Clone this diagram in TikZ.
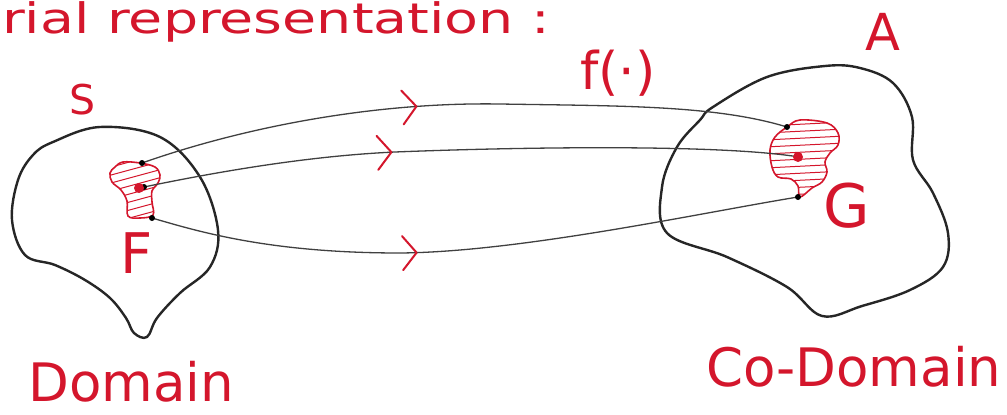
\documentclass[tikz,border=0pt]{standalone}
\usepackage{fontspec}
\setmainfont{DejaVu Sans}
\usepackage{xcolor}
\usetikzlibrary{decorations.markings}

\definecolor{handred}{RGB}{212,22,44}

\begin{document}
\begin{tikzpicture}[x=1pt, y=-1pt,
    setline/.style={draw=black!85, line width=2.4pt, line join=round},
    maplink/.style={draw=black!75, line width=1.3pt},
    rim/.style={draw=handred, line width=1.6pt},
    hatch/.style={draw=handred, line width=1pt},
    lbl/.style={text=handred, inner sep=0pt},
    flowmark/.style={postaction={decorate}, decoration={markings,
        mark=at position #1 with {\draw[handred, line width=2pt, line cap=round, line join=round]
            (-14pt,17pt) -- (0pt,0pt) -- (-14pt,-17pt);}}}
]

\fill[white] (0,0) rectangle (1007,415);
\useasboundingbox (0,0) rectangle (1007,415);

% === Heading ===
\node[lbl, anchor=base west] (title) at (2,33)
    {\scalebox{1.32}[1]{\fontsize{42}{50}\selectfont rial representation :}};

% === Domain S with subset F ===
\draw[setline] plot[smooth cycle, tension=0.6] coordinates {
    (53,142) (100,127) (160,137) (200,177) (218,230) (210,267) (180,293)
    (157,318) (147,337) (134,333) (126,318) (110,298) (85,280) (55,265)
    (25,255) (12,220) (18,180) (33,155)};
\begin{scope}
    \clip plot[smooth cycle, tension=0.6] coordinates {
        (115,167) (123,162) (140,163) (155,167) (160,175) (158,183) (152,191)
        (152,202) (153,215) (140,218) (128,216) (127,201) (121,190) (112,182) (110,173)};
    \foreach \y in {170,178,...,250}
        \draw[hatch] (100,\y) -- (170,\y-19);
\end{scope}
\draw[rim] plot[smooth cycle, tension=0.6] coordinates {
    (115,167) (123,162) (140,163) (155,167) (160,175) (158,183) (152,191)
    (152,202) (153,215) (140,218) (128,216) (127,201) (121,190) (112,182) (110,173)};

\node[lbl, font=\fontsize{41}{48}\selectfont] (S) at (83,100) {S};
\node[lbl, anchor=base, font=\fontsize{56}{64}\selectfont] (F) at (137,273) {F};
\node[lbl, anchor=base west, font=\fontsize{53}{62}\selectfont] (dom) at (28,401) {Domain};

% === Co-domain A with image G ===
\draw[setline] plot[smooth cycle, tension=0.6] coordinates {
    (713,107) (767,77) (825,66) (860,68) (893,83) (912,117) (913,160)
    (933,193) (948,233) (943,267) (910,290) (862,306) (822,316)
    (787,287) (727,257) (667,233) (662,187) (677,147) (700,120)};
\begin{scope}
    \clip plot[smooth cycle, tension=0.6] coordinates {
        (787,127) (800,120) (827,123) (838,133) (838,145) (830,153) (825,162)
        (827,172) (822,182) (812,188) (800,197) (798,186) (791,179) (778,177)
        (772,167) (770,150) (775,137)};
    \foreach \y in {124,131,...,200}
        \draw[hatch] (765,\y+2) -- (845,\y-2);
\end{scope}
\draw[rim] plot[smooth cycle, tension=0.6] coordinates {
    (787,127) (800,120) (827,123) (838,133) (838,145) (830,153) (825,162)
    (827,172) (822,182) (812,188) (800,197) (798,186) (791,179) (778,177)
    (772,167) (770,150) (775,137)};

\node[lbl, anchor=base, font=\fontsize{51}{60}\selectfont] (A) at (883,50) {A};
\node[lbl, anchor=base, font=\fontsize{60}{70}\selectfont] (G) at (847,227) {G};
\node[lbl, anchor=base west, font=\fontsize{53}{62}\selectfont] (codom) at (706,386) {Co-Domain};

% === Mapping f ===
\coordinate (fTop) at (142,163);
\coordinate (fMid) at (144,187);
\coordinate (fBot) at (152,218);
\coordinate (gTop) at (787,127);
\coordinate (gMid) at (799,157);
\coordinate (gBot) at (798,197);

\draw[maplink, flowmark=0.43] (fTop) .. controls (250,125) and (380,102) .. (500,104)
    .. controls (620,106) and (715,105) .. (gTop);
\draw[maplink, flowmark=0.38] (fMid) .. controls (250,165) and (330,155) .. (395,152)
    .. controls (520,147) and (720,144) .. (gMid);
\draw[maplink, flowmark=0.41] (fBot) .. controls (200,232) and (270,253) .. (400,253)
    .. controls (520,252) and (700,213) .. (gBot);

\fill[black] (fTop) circle (3pt) (fMid) circle (3pt) (fBot) circle (3pt)
    (gTop) circle (3pt) (gBot) circle (3pt);
\fill[handred] (139,188) circle (5pt);
\fill[handred] (798,157) circle (5pt);

\node[lbl, font=\fontsize{52}{60}\selectfont] (fmap) at (618,73) {f(·)};

\end{tikzpicture}
\end{document}
